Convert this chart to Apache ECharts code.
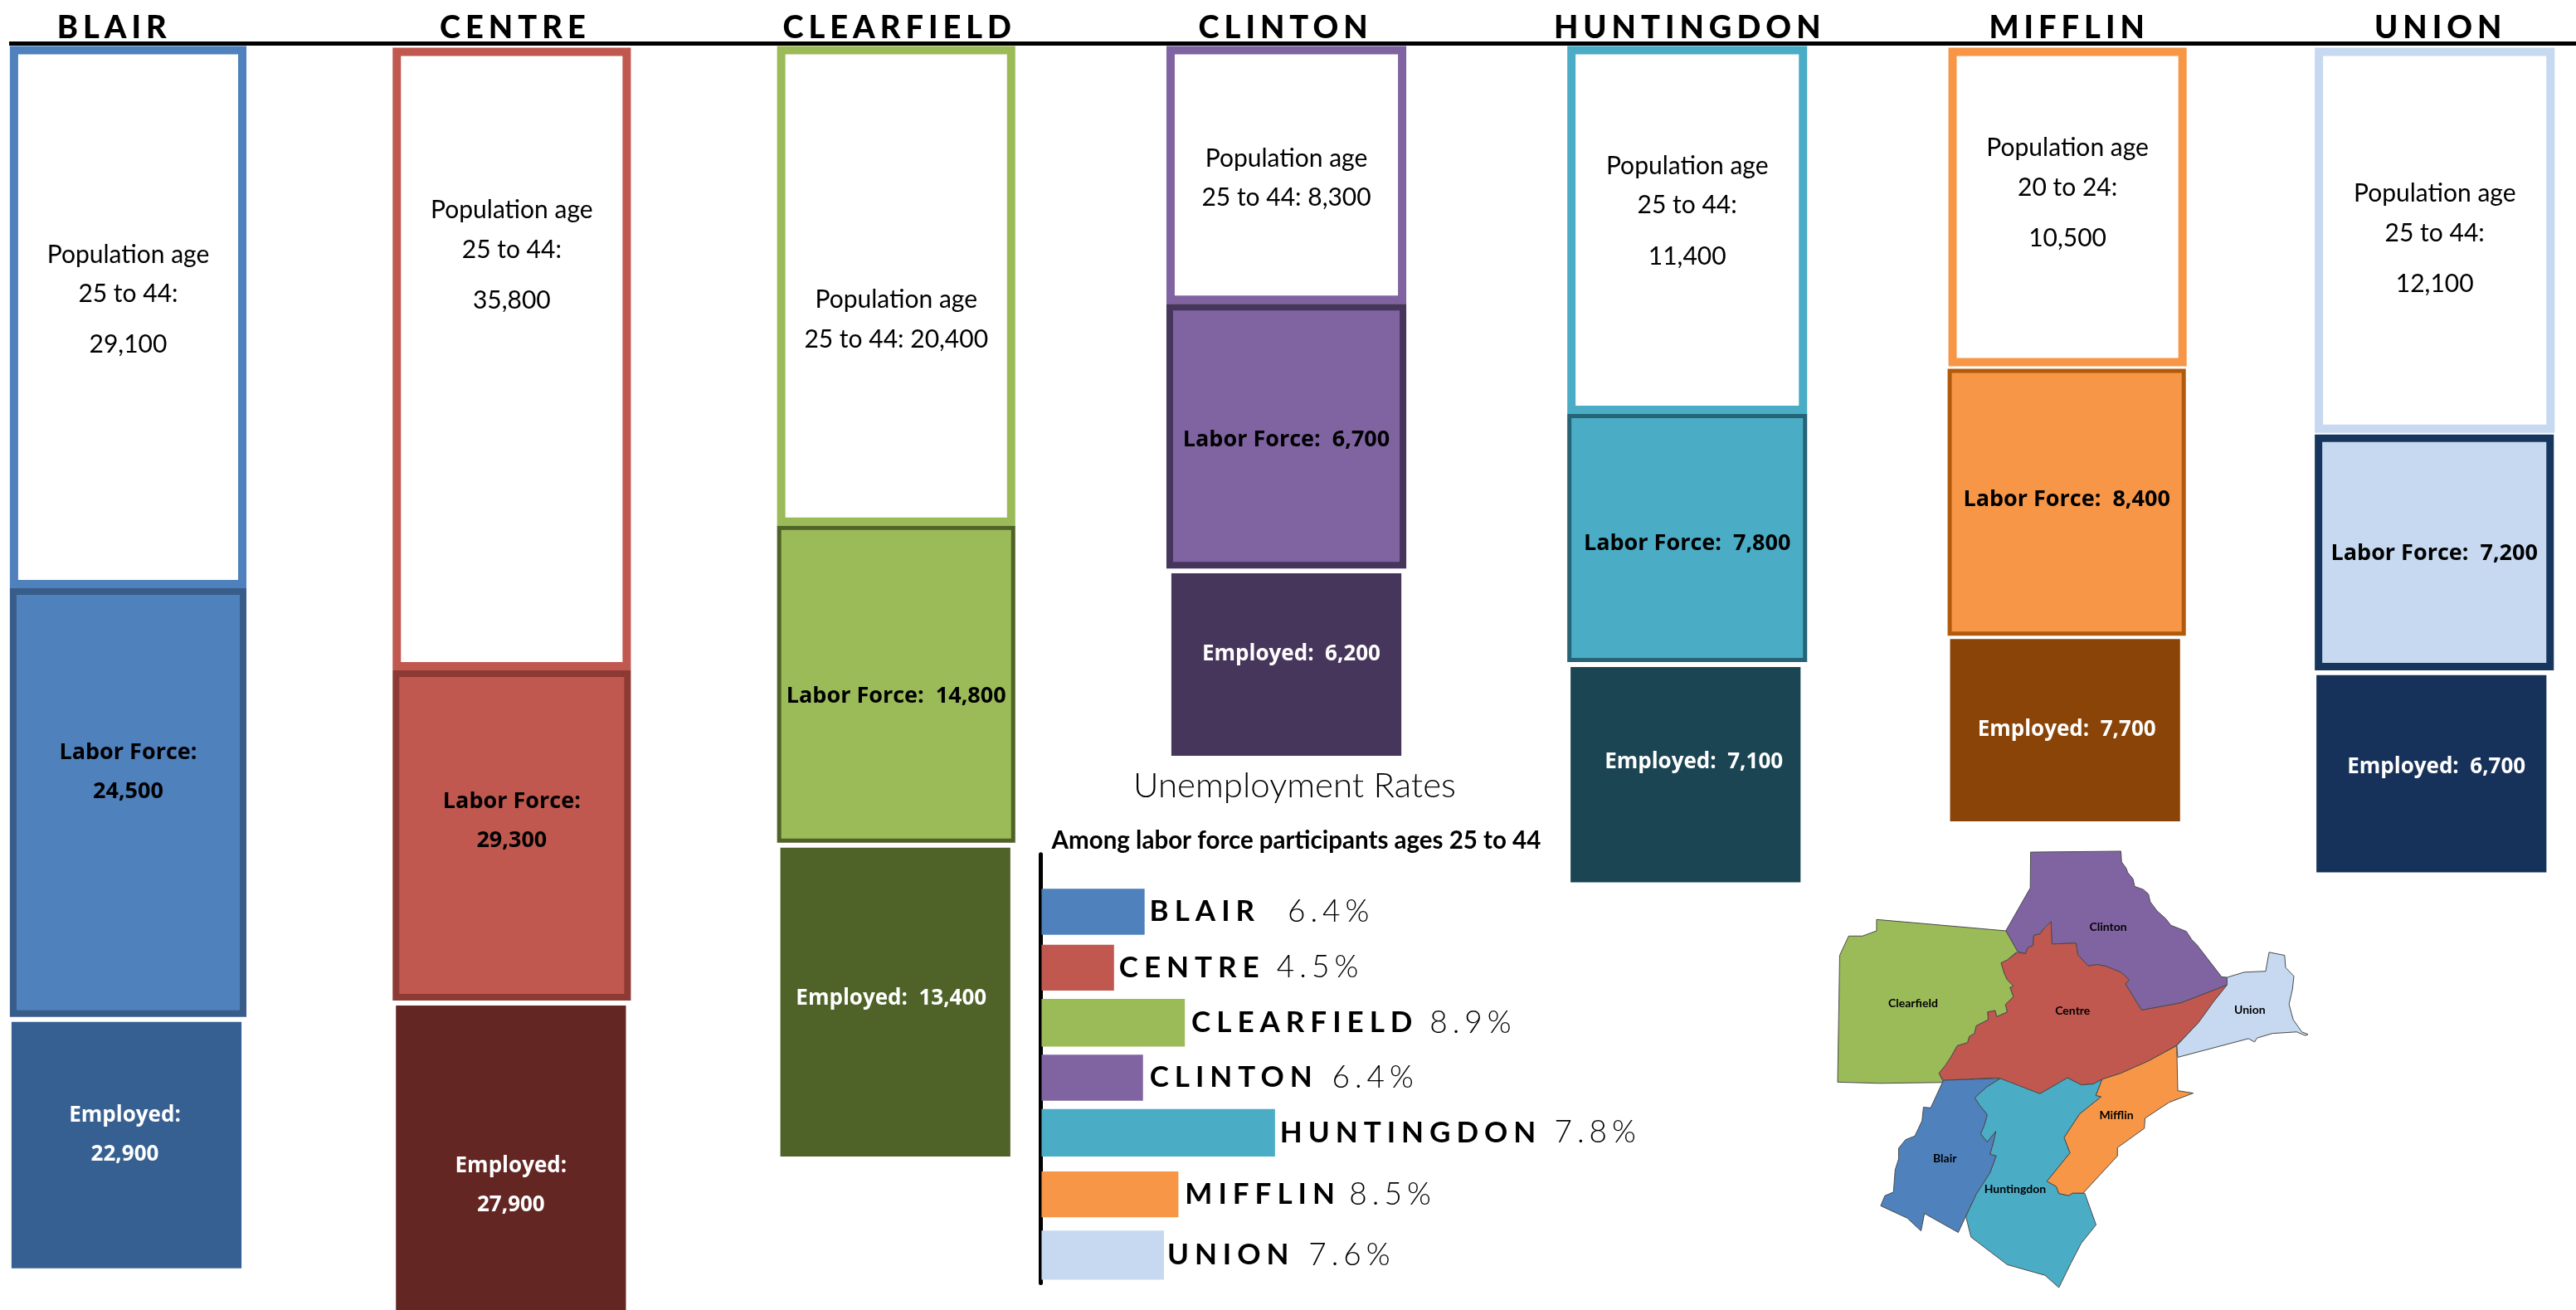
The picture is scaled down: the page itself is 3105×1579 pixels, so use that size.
<!DOCTYPE html>
<html><head><meta charset="utf-8">
<style>html,body{margin:0;padding:0;background:#fff}#c{width:3105px;height:1579px}</style>
<script src="https://cdn.jsdelivr.net/npm/echarts@6/dist/echarts.min.js"></script>
</head><body><div id="c"></div>
<script>
// ---------- DATA ----------
const counties = ['BLAIR','CENTRE','CLEARFIELD','CLINTON','HUNTINGDON','MIFFLIN','UNION'];
const mapNames = ['Blair','Centre','Clearfield','Clinton','Huntingdon','Mifflin','Union'];
const population = [29100,35800,20400,8300,11400,10500,12100];
const laborForce = [24500,29300,14800,6700,7800,8400,7200];
const employed = [22900,27900,13400,6200,7100,7700,6700];
const unemploymentRate = [6.4,4.5,8.9,6.4,7.8,8.5,7.6];
// length of each rate bar as read against the rate axis (Huntingdon's bar is drawn longer than its printed rate)
const rateBarReading = [6.4,4.5,8.9,6.3,14.5,8.5,7.6];
const populationAgeBand = ['25 to 44','25 to 44','25 to 44','25 to 44','25 to 44','20 to 24','25 to 44'];

// ---------- LAYOUT (reference picture at 1568 wide, scaled by K) ----------
const K = 3105/1568;
const popBox   = [[6,150,28,358],[239,384,29,408],[473,618,28,320],[710,856,28,185],[954,1100,28,252],[1186,1331,29,223],[1409,1555,29,263.5]];
const laborBox = [[6,150,358,619],[239,384,408,609],[473,618,320,513],[710,856,185,346],[954,1100,252,403],[1185.5,1330.5,224.5,387],[1409,1554.5,264.5,408]];
const empBox   = [[7,147,622,772],[241,381,612,800],[475,615,516,704],[713,853,349,460],[956,1096,406,537],[1187,1327,389,500],[1410,1550,411,531]];
const laborBorder = [8,8,5,8,5,5,9];
const popLabelY   = [186,159,194.5,108.5,132,121,149];
const laborLabelY = [470,500,424,268,331,304,337];
const empLabelY   = [691,723,608,398,464,444,467];
const empLabelDx  = [-1,0,-2.5,3,5,1,3];
const headerX = [67,311,545,780,1026,1257,1483];
const palette = {
  base:  ['#4F81BD','#C0584F','#9BBB59','#8064A2','#4BACC6','#F79646','#C6D9F0'],
  dark:  ['#385D8A','#8C3A33','#4F6228','#47365C','#256375','#B25A0C','#17365D'],
  deep:  ['#376092','#632623','#4F6228','#47365C','#1B4552','#8A4407','#17325A']
};
const rateAxisX = 634, rateUnit = 9.8;
const rateRows = [[541,569],[575,603],[608,637],[642,670],[675,704],[713,741],[749,779]];
const nameGap = [3,3,4,4,3,4,2];
const pctGapFromBar = [87,99,149,115,170,104,88];

// Outline tracing of the county map (map-local units)
const mapShapes = {
Clinton:[[598,73],[860,70],[862,105],[875,125],[880,140],[895,160],[900,185],[925,195],[940,210],[945,235],[965,265],[990,290],[1005,312],[1028,322],[1050,332],[1065,358],[1080,375],[1152,480],[1168,482],[1168,507],[1035,565],[920,589],[873,503],[884,490],[860,465],[815,445],[790,440],[765,445],[735,408],[730,370],[660,373],[657,300],[635,325],[625,340],[607,345],[605,378],[590,385],[583,405],[560,397],[526,330],[597,190]],
Centre:[[657,300],[660,373],[730,370],[735,408],[765,445],[790,440],[815,445],[860,465],[884,490],[873,503],[920,589],[1035,565],[1168,507],[1130,560],[1085,630],[1020,705],[940,755],[860,795],[805,815],[780,830],[745,833],[705,810],[625,862],[498,810],[345,818],[332,795],[350,770],[365,745],[385,705],[415,695],[420,675],[435,665],[440,640],[475,620],[473,595],[495,590],[500,610],[530,595],[525,570],[548,545],[538,515],[548,510],[530,490],[522,470],[512,435],[530,425],[560,400],[583,405],[590,385],[605,378],[607,345],[625,340],[635,325]],
Clearfield:[[151,293],[526,330],[560,397],[530,425],[512,435],[522,470],[530,490],[548,510],[538,515],[548,545],[525,570],[530,595],[500,610],[495,590],[473,595],[475,620],[440,640],[435,665],[420,675],[415,695],[385,705],[365,745],[350,770],[332,795],[345,825],[160,828],[38,824],[44,410],[70,347],[110,347],[151,330]],
Union:[[1168,482],[1218,465],[1280,462],[1290,400],[1335,410],[1338,450],[1362,478],[1358,520],[1348,570],[1360,620],[1385,660],[1403,668],[1395,672],[1370,660],[1300,665],[1255,680],[1248,693],[1230,682],[1025,743],[1022,705],[1085,630],[1130,560],[1168,507]],
Mifflin:[[1022,705],[1025,852],[1070,860],[1000,890],[930,942],[928,975],[850,1038],[850,1065],[750,1187],[720,1187],[708,1195],[680,1188],[672,1165],[645,1148],[712,1055],[695,1005],[740,928],[802,872],[787,868],[795,845],[805,815],[860,795],[940,755]],
Huntingdon:[[510,812],[625,862],[705,810],[745,833],[780,830],[805,815],[795,845],[787,868],[802,872],[740,928],[695,1005],[712,1055],[645,1148],[672,1165],[680,1188],[708,1195],[720,1187],[755,1187],[788,1290],[745,1350],[715,1415],[680,1495],[640,1455],[530,1420],[425,1330],[410,1262],[440,1190],[480,1120],[498,1065],[480,1060],[490,1020],[497,985],[472,1020],[453,993],[465,960],[472,930],[450,900],[436,875],[470,840]],
Blair:[[345,818],[510,812],[470,840],[436,875],[450,900],[472,930],[465,960],[453,993],[472,1020],[497,985],[490,1020],[480,1060],[498,1065],[480,1120],[440,1190],[410,1262],[388,1315],[290,1253],[280,1310],[240,1268],[163,1228],[175,1195],[200,1183],[205,1110],[215,1075],[215,1040],[235,1012],[262,1000],[283,950],[287,906],[308,908]]
};
const mapLabelAt = {Clinton:[823,318],Centre:[720,592],Clearfield:[257,566],Union:[1234,589],Mifflin:[847,933],Blair:[349,1073],Huntingdon:[553,1173]};

// ---------- Letter tracking for the wide-set headings ----------
const tracking = {'38px':'6px','35px':'7px','37px':'6px'};
const baseFill = CanvasRenderingContext2D.prototype.fillText;
CanvasRenderingContext2D.prototype.fillText = function(t,x,y,m){
  const hit = Object.keys(tracking).find(s=>this.font.indexOf(s)>=0);
  this.letterSpacing = hit ? tracking[hit] : '0px';
  return m===undefined ? baseFill.call(this,t,x,y) : baseFill.call(this,t,x,y,m);
};

// ---------- Build ----------
const fmt = v => v.toLocaleString('en-US');
const BODY = 'Lato, "Open Sans", sans-serif', BOLD = '"Open Sans", Lato, sans-serif';
const grids=[], xAxes=[], yAxes=[], series=[], titles=[];

function panel(box,value,border,fill,bw,label){
  const [x0,x1,y0,y1]=box, i=grids.length;
  grids.push({left:x0*K,width:(x1-x0)*K,top:y0*K,height:(y1-y0)*K});
  xAxes.push({type:'category',gridIndex:i,show:false,data:['v']});
  yAxes.push({type:'value',gridIndex:i,show:false,min:0,max:value});
  series.push({type:'bar',xAxisIndex:i,yAxisIndex:i,barWidth:'100%',data:[value],silent:true,
    itemStyle:{color:fill,borderColor:border,borderWidth:bw},label});
}
function labelFor(box,cy,dx,text,color,font,size,weight,rich){
  return {show:true,position:'inside',align:'center',verticalAlign:'middle',
    offset:[dx*K,(cy-(box[2]+box[3])/2)*K],formatter:text,color,fontFamily:font,fontSize:size,fontWeight:weight,rich};
}
counties.forEach((c,i)=>{
  // population
  const band=populationAgeBand[i], v=fmt(population[i]);
  const rp={a:{fontFamily:BODY,fontSize:30,color:'#000',lineHeight:47.5,align:'center'},
            b:{fontFamily:BODY,fontSize:30,color:'#000',lineHeight:75,align:'center'}};
  const popText = i===2||i===3
     ? `{a|Population age}\n{a|${band}: ${v}}`
     : `{a|Population age}\n{a|${band}:}\n{b|${v}}`;
  panel(popBox[i],population[i],palette.base[i],'#fff',10,labelFor(popBox[i],popLabelY[i],0,popText,'#000',BODY,30,'normal',rp));
  // labor
  const rl={a:{fontFamily:BOLD,fontSize:27,fontWeight:'bold',color:'#000',lineHeight:47,align:'center'}};
  const lv=fmt(laborForce[i]);
  const labText = i<2 ? `{a|Labor Force:}\n{a|${lv}}` : `{a|Labor Force:  ${lv}}`;
  panel(laborBox[i],laborForce[i],palette.dark[i],palette.base[i],laborBorder[i],labelFor(laborBox[i],laborLabelY[i],0,labText,'#000',BOLD,27,'bold',rl));
  // employed
  const re={a:{fontFamily:BOLD,fontSize:26,fontWeight:'bold',color:'#fff',lineHeight:47,align:'center'}};
  const ev=fmt(employed[i]);
  const empText = i<2 ? `{a|Employed:}\n{a|${ev}}` : `{a|Employed:  ${ev}}`;
  panel(empBox[i],employed[i],palette.deep[i],palette.deep[i],0,labelFor(empBox[i],empLabelY[i],empLabelDx[i],empText,'#fff',BOLD,26,'bold',re));
  titles.push({text:c,left:headerX[i]*K,top:14.5*K,textAlign:'center',textVerticalAlign:'middle',
    textStyle:{fontFamily:'Lato',fontWeight:900,fontSize:38,color:'#000'}});
});

titles.push({text:'Unemployment Rates',left:785.5*K,top:476*K,textAlign:'center',textVerticalAlign:'middle',
  textStyle:{fontFamily:'Lato',fontWeight:300,fontSize:42,color:'#000'}});
titles.push({text:'Among labor force participants ages 25 to 44',left:786.5*K,top:509.5*K,textAlign:'center',textVerticalAlign:'middle',
  textStyle:{fontFamily:'Lato',fontWeight:'bold',fontSize:29.5,color:'#000'}});

// rate bars: one shared axis scale, one thin panel per county
counties.forEach((c,i)=>{
  const g=grids.length, [r0,r1]=rateRows[i];
  grids.push({left:rateAxisX*K,width:16*rateUnit*K,top:r0*K,height:(r1-r0)*K});
  xAxes.push({type:'value',gridIndex:g,show:false,min:0,max:16});
  yAxes.push({type:'category',gridIndex:g,show:false,data:[c]});
  series.push({type:'bar',xAxisIndex:g,yAxisIndex:g,barWidth:'100%',barGap:'-100%',silent:true,data:[rateBarReading[i]],
    itemStyle:{color:palette.base[i]},
    label:{show:true,position:'right',distance:nameGap[i]*K,formatter:c,fontFamily:'Lato',fontWeight:'bold',fontSize:35,color:'#000'}});
  series.push({type:'bar',xAxisIndex:g,yAxisIndex:g,barWidth:'100%',barGap:'-100%',silent:true,data:[rateBarReading[i]],
    itemStyle:{color:'rgba(0,0,0,0)'},
    label:{show:true,position:'right',distance:pctGapFromBar[i]*K,formatter:unemploymentRate[i]+'%',fontFamily:'Lato',fontWeight:300,fontSize:37,color:'#000'}});
});
// rate axis line
{
  const g=grids.length;
  grids.push({left:633.5*K,width:10,top:520*K,height:261*K});
  xAxes.push({type:'value',gridIndex:g,show:false,min:0,max:1});
  yAxes.push({type:'category',gridIndex:g,data:counties,axisLabel:{show:false},axisTick:{show:false},
    axisLine:{show:true,lineStyle:{color:'#000',width:5}}});
}

// county map
const features=Object.keys(mapShapes).map(n=>{
  const ring=mapShapes[n].map(p=>[p[0],-p[1]]);
  ring.push(ring[0]);
  return {type:'Feature',properties:{name:n,cp:[mapLabelAt[n][0],-mapLabelAt[n][1]]},geometry:{type:'Polygon',coordinates:[ring]}};
});
echarts.registerMap('counties',{type:'FeatureCollection',features});
series.push({type:'map',map:'counties',left:2215,top:1026,width:567,height:526,aspectScale:1,silent:true,roam:false,
  label:{show:true,fontFamily:'Lato',fontWeight:'bold',fontSize:14,color:'#000'},
  itemStyle:{borderColor:'#4a4a4a',borderWidth:1},
  emphasis:{disabled:true},
  data:mapNames.map((n,i)=>({name:n,value:unemploymentRate[i],itemStyle:{areaColor:palette.base[i]}}))});

const chart=echarts.init(document.getElementById('c'),null,{renderer:'canvas',width:3105,height:1579});
chart.setOption({
  animation:false,backgroundColor:'#fff',tooltip:{show:false},
  title:titles,grid:grids,xAxis:xAxes,yAxis:yAxes,series,
  graphic:[{type:'rect',shape:{x:11,y:50,width:3094,height:5},style:{fill:'#000'},silent:true}]
});
</script></body></html>
